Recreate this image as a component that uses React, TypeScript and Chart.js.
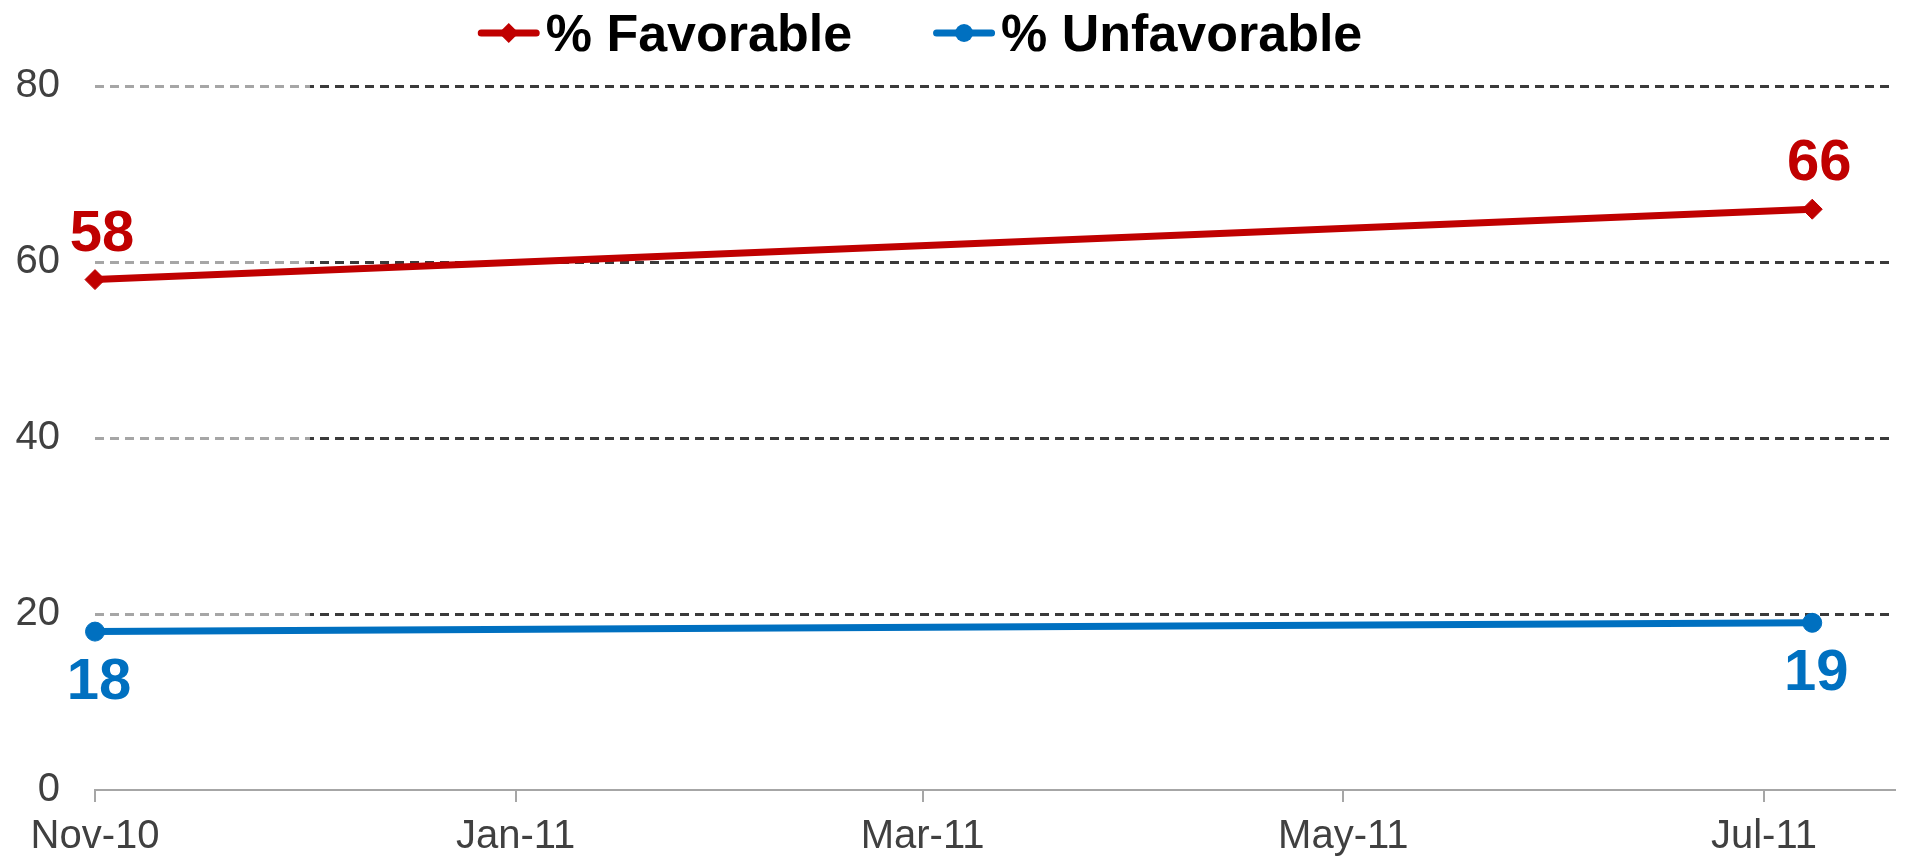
import React, { useEffect, useRef } from "react";
import { Chart, registerables } from "chart.js";

Chart.register(...registerables);

// ---- data ----
const seriesNames = ["% Favorable", "% Unfavorable"];
const surveyDates = ["2010-11-01", "2011-07-08"];
const favorable = [58, 66];
const unfavorable = [18, 19];
const tickDates = ["2010-11-01", "2011-01-01", "2011-03-01", "2011-05-01", "2011-07-01"];
const tickLabels = ["Nov-10", "Jan-11", "Mar-11", "May-11", "Jul-11"];
const axisEndDate = "2011-07-20";
const yMin = 0;
const yMax = 80;
const yStep = 20;

// ---- style ----
const FONT = '"Liberation Sans", Arial, Helvetica, sans-serif';
const RED = "#C00000";
const BLUE = "#0070C0";
const TICK_COLOR = "#404040";
const AXIS_COLOR = "#a6a6a6";

const DAY = 86400000;
const dayIndex = (s: string) =>
  (Date.parse(s + "T00:00:00Z") - Date.parse(surveyDates[0] + "T00:00:00Z")) / DAY;

const legendPlugin = {
  id: "excelLegend",
  afterDraw(chart: any) {
    const ctx = chart.ctx as CanvasRenderingContext2D;
    ctx.save();
    ctx.font = `bold 52px ${FONT}`;
    const iconW = 62;
    const iconGap = 6;
    const itemGap = 81;
    const items = chart.data.datasets.map((ds: any) => ({
      text: ds.label as string,
      color: ds.borderColor as string,
      style: ds.pointStyle as string,
      w: ctx.measureText(ds.label).width,
    }));
    const total =
      items.reduce((s: number, it: any) => s + iconW + iconGap + it.w, 0) +
      itemGap * (items.length - 1);
    let x = chart.width / 2 - total / 2 - 33;
    const yc = 33;
    const baseline = 51;
    items.forEach((it: any) => {
      ctx.strokeStyle = it.color;
      ctx.lineWidth = 7;
      ctx.lineCap = "round";
      ctx.beginPath();
      ctx.moveTo(x + 3.5, yc);
      ctx.lineTo(x + iconW - 3.5, yc);
      ctx.stroke();
      const cx = x + iconW / 2;
      ctx.fillStyle = it.color;
      ctx.beginPath();
      if (it.style === "rectRot") {
        const r = 10;
        ctx.moveTo(cx, yc - r);
        ctx.lineTo(cx + r, yc);
        ctx.lineTo(cx, yc + r);
        ctx.lineTo(cx - r, yc);
        ctx.closePath();
      } else {
        ctx.arc(cx, yc, 9, 0, Math.PI * 2);
      }
      ctx.fill();
      ctx.fillStyle = "#000000";
      ctx.textAlign = "left";
      ctx.textBaseline = "alphabetic";
      ctx.fillText(it.text, x + iconW + iconGap, baseline);
      x += iconW + iconGap + it.w + itemGap;
    });
    ctx.restore();
  },
};

// label offsets relative to the point, per dataset: above for first, below for second
const LABEL_DX = [7, 4];
const LABEL_DY = [-29, 67];
const valueLabelPlugin = {
  id: "valueLabels",
  afterDatasetsDraw(chart: any) {
    const ctx = chart.ctx as CanvasRenderingContext2D;
    ctx.save();
    ctx.font = `bold 58px ${FONT}`;
    ctx.textAlign = "center";
    ctx.textBaseline = "alphabetic";
    chart.data.datasets.forEach((ds: any, i: number) => {
      const meta = chart.getDatasetMeta(i);
      ctx.fillStyle = ds.borderColor;
      meta.data.forEach((pt: any, j: number) => {
        const v = ds.data[j].y;
        ctx.fillText(String(v), pt.x + LABEL_DX[i], pt.y + LABEL_DY[i]);
      });
    });
    ctx.restore();
  },
};

export default function App() {
  const ref = useRef<HTMLCanvasElement>(null);
  useEffect(() => {
    const canvas = ref.current!;
    const xs = surveyDates.map(dayIndex);
    const gridColor = (c: any) => {
      if (c.tick && c.tick.value === 0) return "rgba(0,0,0,0)";
      const area = c.chart.chartArea;
      if (!area) return TICK_COLOR;
      const g = c.chart.ctx.createLinearGradient(area.left, 0, area.right, 0);
      const t = (310 - area.left) / (area.right - area.left);
      g.addColorStop(0, "#a6a6a6");
      g.addColorStop(t, "#a6a6a6");
      g.addColorStop(Math.min(1, t + 0.0001), "#3a3a3a");
      g.addColorStop(1, "#3a3a3a");
      return g;
    };
    const chart = new Chart(canvas, {
      type: "line",
      data: {
        datasets: [
          {
            label: seriesNames[0],
            data: xs.map((x, i) => ({ x, y: favorable[i] })),
            borderColor: RED,
            backgroundColor: RED,
            pointBackgroundColor: RED,
            pointBorderColor: RED,
            pointStyle: "rectRot",
            pointRadius: 10,
            pointBorderWidth: 1,
            borderWidth: 7,
            tension: 0,
            clip: false,
          },
          {
            label: seriesNames[1],
            data: xs.map((x, i) => ({ x, y: unfavorable[i] })),
            borderColor: BLUE,
            backgroundColor: BLUE,
            pointBackgroundColor: BLUE,
            pointBorderColor: BLUE,
            pointStyle: "circle",
            pointRadius: 9.5,
            pointBorderWidth: 1,
            borderWidth: 7,
            tension: 0,
            clip: false,
          },
        ],
      },
      options: {
        responsive: false,
        maintainAspectRatio: false,
        animation: false,
        devicePixelRatio: 1,
        layout: { padding: { top: 86, right: 2, left: 0, bottom: 0 } },
        plugins: {
          legend: { display: false },
          tooltip: { enabled: false },
        },
        scales: {
          x: {
            type: "linear",
            min: 0,
            max: dayIndex(axisEndDate),
            afterBuildTicks: (s: any) => {
              s.ticks = tickDates.map((d) => ({ value: dayIndex(d) }));
            },
            afterFit: (s: any) => {
              s.height = 69;
            },
            ticks: {
              callback: (_v: any, i: number) => tickLabels[i],
              font: { size: 40, family: FONT },
              color: TICK_COLOR,
              padding: 11,
              maxRotation: 0,
              autoSkip: false,
            },
            grid: {
              drawOnChartArea: false,
              drawTicks: true,
              tickLength: 12,
              color: AXIS_COLOR,
              lineWidth: 2,
            },
            border: { display: true, color: AXIS_COLOR, width: 2 },
          },
          y: {
            min: yMin,
            max: yMax,
            afterFit: (s: any) => {
              s.width = 95;
            },
            ticks: {
              stepSize: yStep,
              font: { size: 40, family: FONT },
              color: TICK_COLOR,
              padding: 35,
            },
            grid: { drawTicks: false, color: gridColor, lineWidth: 3 },
            border: { display: false, dash: [9, 6] },
          },
        },
      },
      plugins: [legendPlugin, valueLabelPlugin],
    } as any);
    return () => chart.destroy();
  }, []);
  return (
    <div
      style={{
        position: "absolute",
        left: 0,
        top: 0,
        width: 1906,
        height: 859,
        background: "#ffffff",
      }}
    >
      <canvas ref={ref} width={1906} height={859} style={{ display: "block" }} />
    </div>
  );
}
